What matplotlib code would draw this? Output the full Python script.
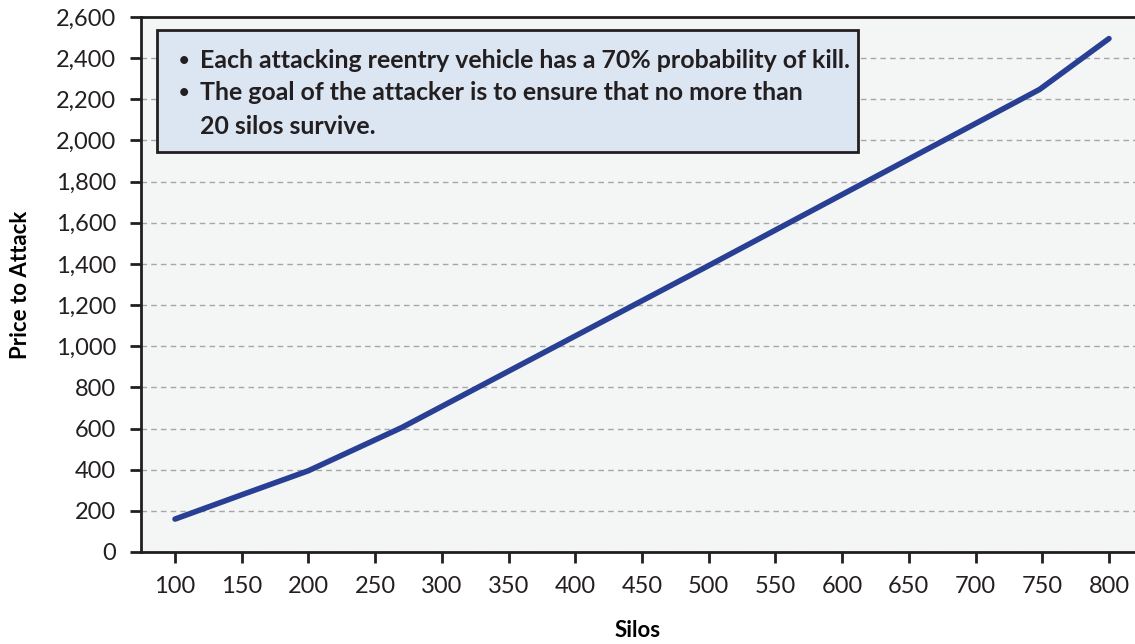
import matplotlib.pyplot as plt
from matplotlib.patches import Rectangle

silos = [100, 150, 200, 270, 500, 748, 800]
price = [160, 278, 395, 605, 1392, 2248, 2495]
xticks = [100, 150, 200, 250, 300, 350, 400, 450, 500, 550, 600, 650, 700, 750, 800]
yticks = list(range(0, 2601, 200))
notes = ["Each attacking reentry vehicle has a 70% probability of kill.",
         "The goal of the attacker is to ensure that no more than",
         "20 silos survive."]

plt.rcParams['font.family'] = ['Lato', 'DejaVu Sans']

fig = plt.figure(figsize=(11.35, 6.44), dpi=100)
ax = fig.add_axes([141/1135, 1 - 552/644, (1135 - 141)/1135, 535/644])
ax.set_facecolor('#f4f6f6')

ax.plot(silos, price, color='#283f94', linewidth=4, solid_capstyle='round', zorder=3)

ax.set_xlim(74.5, 819.5)
ax.set_ylim(0, 2600)
ax.set_xticks(xticks)
ax.set_yticks(yticks)
ax.set_yticklabels([f'{v:,}' for v in yticks])
ax.tick_params(axis='both', labelsize=17, colors='#231f20', width=2, length=8, direction='out')
ax.tick_params(axis='x', pad=9)
ax.tick_params(axis='y', pad=10)
ax.grid(axis='y', linestyle=(0, (4, 3)), color='#a6a6a6', linewidth=1)
ax.set_axisbelow(True)

for s in ['left', 'bottom', 'top']:
    ax.spines[s].set_linewidth(2)
    ax.spines[s].set_color('#231f20')
ax.spines['right'].set_visible(False)

ax.set_xlabel('Silos', fontsize=16, fontweight='bold', labelpad=17)
ax.set_ylabel('Price to Attack', fontsize=16, fontweight='bold', labelpad=18)

# annotation box
box = Rectangle((157/1135, 1 - 152/644), (858 - 157)/1135, (152 - 30)/644,
                transform=fig.transFigure, facecolor='#dce6f2', edgecolor='#231f20',
                linewidth=2, zorder=4)
fig.patches.append(box)
kw = dict(fontsize=17.9, fontweight='bold', color='#231f20', va='center', zorder=5)
bkw = dict(kw, fontsize=13)
fig.text(179/1135, 1 - 60/644, '•', **bkw)
fig.text(200/1135, 1 - 60/644, notes[0], **kw)
fig.text(179/1135, 1 - 93/644, '•', **bkw)
fig.text(200/1135, 1 - 93/644, notes[1], **kw)
fig.text(200/1135, 1 - 127/644, notes[2], **kw)

plt.savefig('out.png', dpi=100)
